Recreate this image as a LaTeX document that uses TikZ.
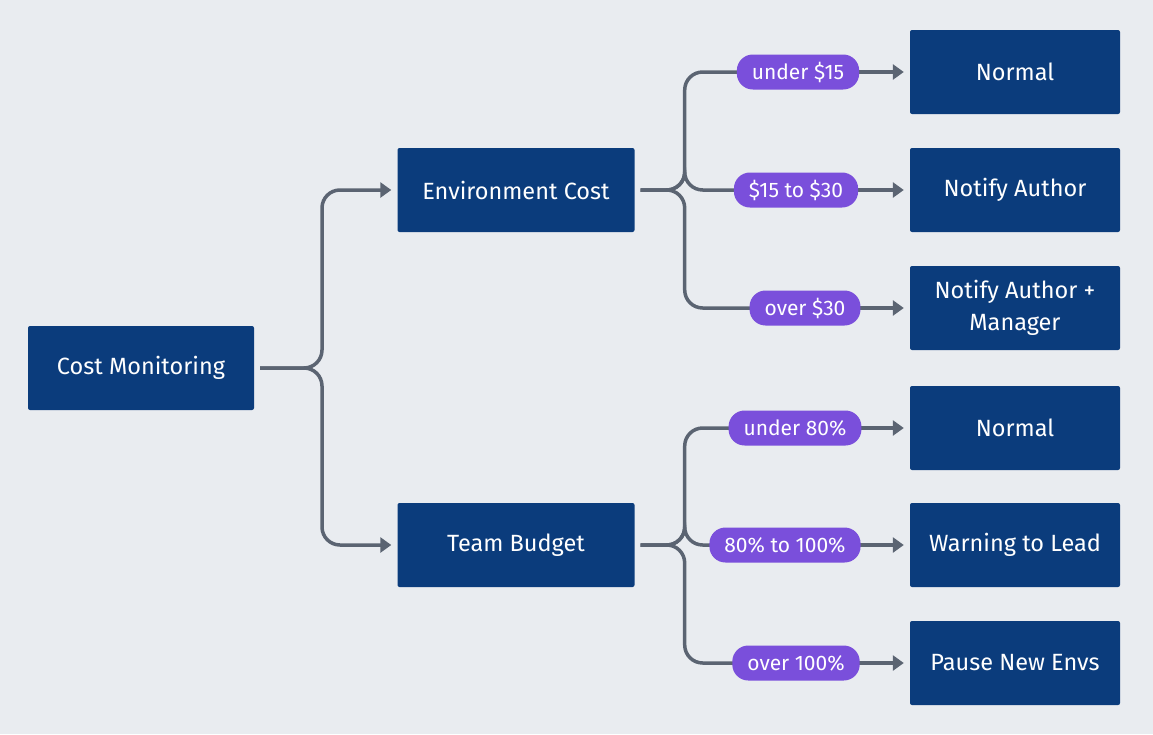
\documentclass[tikz,border=0pt]{standalone}
\usepackage{fontspec}
\setmainfont{Fira Sans}
\usetikzlibrary{arrows.meta,calc}
\definecolor{bg}{HTML}{E9ECF0}
\definecolor{box}{HTML}{0B3C7C}
\definecolor{edge}{HTML}{5B6472}
\definecolor{pill}{HTML}{7A4FDB}
\begin{document}
\begin{tikzpicture}[x=1pt,y=-1pt,
  b/.style={fill=box,text=white,rounded corners=2pt,minimum height=84pt,font=\fontsize{23.5}{32}\selectfont,align=center,inner sep=0pt},
  p/.style={fill=pill,text=white,rounded corners=16pt,minimum height=35pt,inner xsep=15pt,font=\fontsize{21}{24}\selectfont},
  e/.style={draw=edge,line width=3.5pt,rounded corners=18pt},
  a/.style={e,-{Triangle[length=11pt,width=15pt]}}]
\fill[bg] (0,0) rectangle (1153,734);
\useasboundingbox (0,0) rectangle (1153,734);
\node[b,minimum width=226pt] (cm) at (141,368) {Cost Monitoring};
\node[b,minimum width=237pt] (env) at (516,190) {Environment Cost};
\node[b,minimum width=237pt] (tb) at (516,545) {Team Budget};
\foreach \n/\y/\t in {n1/72/Normal,n2/190/Notify Author,n3/308/{Notify Author +\\Manager},n4/428/Normal,n5/545/Warning to Lead,n6/663/Pause New Envs}
  \node[b,minimum width=210pt] (\n) at (1015,\y) {\t};
\draw[a] ($(cm.east)+(6,0)$) -- (322,368) |- ($(env.west)+(-6,0)$);
\draw[a] ($(cm.east)+(6,0)$) -- (322,368) |- ($(tb.west)+(-6,0)$);
\foreach \s/\n/\x/\y/\t in {env/n1/798/72/under \$15,env/n2/796/190/\$15 to \$30,env/n3/805/308/over \$30,tb/n4/795/428/under 80\%,tb/n5/785/545/80\% to 100\%,tb/n6/796/663/over 100\%}{
  \coordinate (pc) at (\x,\y);
  \draw[e] ($(\s.east)+(6,0)$) -- ($(\s.east)+(50,0)$) |- (pc);
  \draw[a] (pc) -- ($(\n.west)+(-6,0)$);
  \node[p] at (pc) {\t};
}
\end{tikzpicture}
\end{document}
